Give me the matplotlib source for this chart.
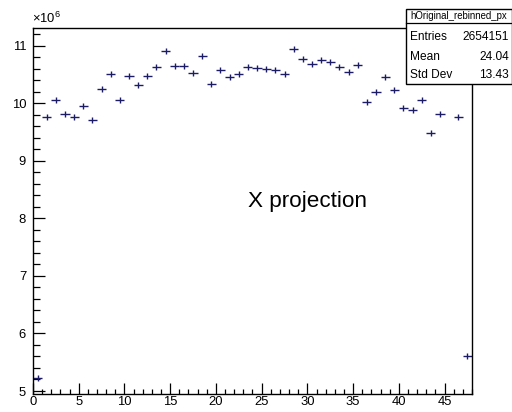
import matplotlib
matplotlib.use('Agg')
import matplotlib.pyplot as plt
import numpy as np
from matplotlib.patches import Rectangle
from matplotlib.lines import Line2D
from matplotlib.ticker import MultipleLocator

plt.rcParams['font.family'] = ['Liberation Sans', 'DejaVu Sans']
plt.rcParams['mathtext.fontset'] = 'custom'
plt.rcParams['mathtext.rm'] = 'Liberation Sans'

# histogram bins (width 1, from 0 to 48), contents in units of 1e6
bin_edges = np.arange(0, 49)
counts = [5.22, 9.77, 10.05, 9.81, 9.76, 9.96, 9.71, 10.24, 10.51, 10.05,
          10.48, 10.32, 10.48, 10.63, 10.90, 10.65, 10.64, 10.53, 10.83, 10.34,
          10.58, 10.45, 10.51, 10.63, 10.61, 10.60, 10.57, 10.51, 10.94, 10.77,
          10.68, 10.75, 10.72, 10.63, 10.54, 10.67, 10.03, 10.20, 10.45, 10.23,
          9.91, 9.88, 10.06, 9.49, 9.81, 10.40, 9.77, 5.60]

hist_name = 'hOriginal_rebinned_px'
stat_labels = ['Entries', 'Mean', 'Std Dev']
stat_values = ['2654151', '24.04', '13.43']

W, H = 512, 412
fig = plt.figure(figsize=(W / 100, H / 100), dpi=100)

def fx(px):
    return px / W

def fy(py):
    return 1 - py / H

ax = fig.add_axes([fx(33), fy(394), fx(472) - fx(33), fy(28) - fy(394)])

centers = (bin_edges[:-1] + bin_edges[1:]) / 2
col = '#1b1b66'
ax.errorbar(centers, counts, xerr=0.5, fmt='none', ecolor=col, elinewidth=1.0)
ax.plot(centers, counts, ls='none', marker='|', ms=5, mew=1.0, color=col)

ax.set_xlim(0, 48)
ax.set_ylim(4.948, 11.308)

ax.xaxis.set_major_locator(MultipleLocator(5))
ax.xaxis.set_minor_locator(MultipleLocator(1))
ax.yaxis.set_major_locator(MultipleLocator(1))
ax.yaxis.set_minor_locator(MultipleLocator(0.2))
ax.tick_params(axis='both', which='both', direction='in', top=False, right=False,
               labelsize=9.4, width=0.9)
ax.tick_params(axis='y', which='major', length=8.4, pad=5)
ax.tick_params(axis='y', which='minor', length=4.8)
ax.tick_params(axis='x', which='major', length=7.9, pad=1.2)
ax.tick_params(axis='x', which='minor', length=3.8)
for s in ax.spines.values():
    s.set_linewidth(1.0)

fig.text(fx(32), fy(23), r'$\times10^{6}$', fontsize=9.4, ha='left', va='baseline')

ax.text(0.625, 0.526, 'X projection', transform=ax.transAxes, fontsize=16.2,
        ha='center', va='center')

# stats box
x0, x1, y0, y1 = 405.5, 511.5, 9, 84
fig.add_artist(Rectangle((fx(x0), fy(y1)), fx(x1) - fx(x0), fy(y0) - fy(y1),
                         transform=fig.transFigure, facecolor='white',
                         edgecolor='black', lw=1.0, zorder=5))
fig.add_artist(Line2D([fx(x0), fx(x1)], [fy(22.7), fy(22.7)],
                      transform=fig.transFigure, color='black', lw=0.9, zorder=6))
fig.text(fx((x0 + x1) / 2), fy(16), hist_name, fontsize=6.9, ha='center',
         va='center', zorder=7)
for lab, val, yy in zip(stat_labels, stat_values, [37, 57.5, 75.5]):
    fig.text(fx(410), fy(yy), lab, fontsize=8.6, ha='left', va='center', zorder=7)
    fig.text(fx(509), fy(yy), val, fontsize=8.6, ha='right', va='center', zorder=7)

fig.savefig('out.png', dpi=100)
